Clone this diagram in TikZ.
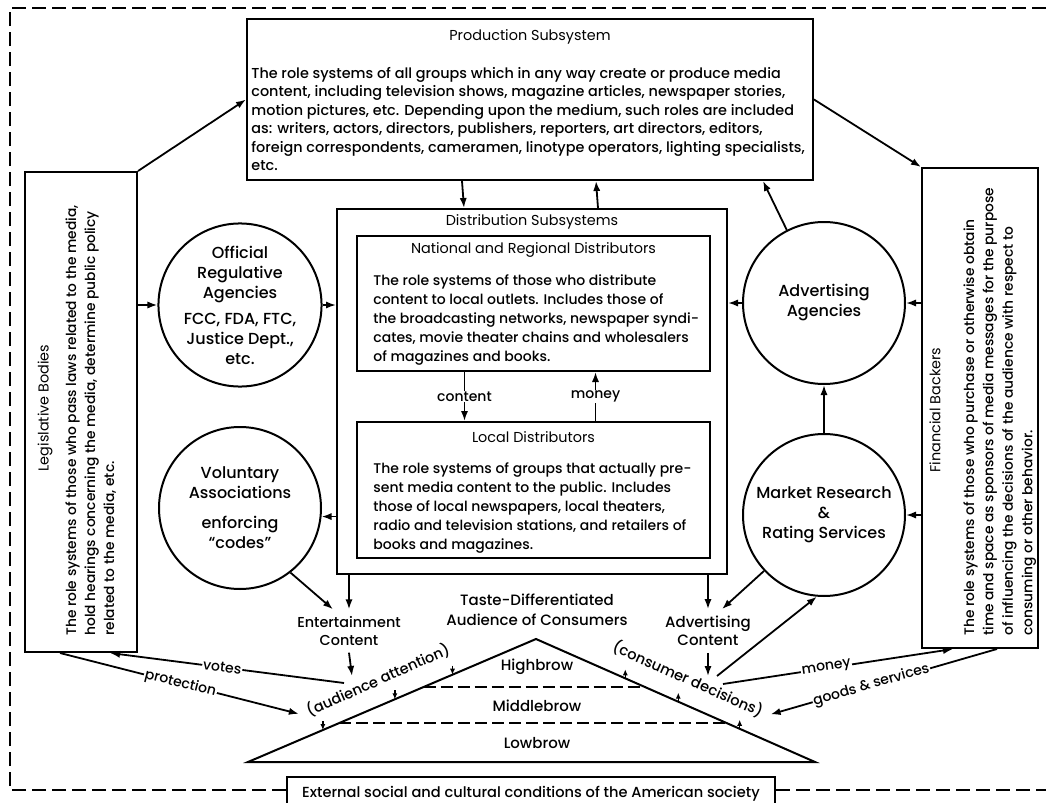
\documentclass[tikz,border=0pt]{standalone}
\usepackage{fontspec}
\setmainfont{Poppins}[UprightFont={* Medium}]
\newfontfamily\lightfont{Poppins}
\usetikzlibrary{positioning, calc, arrows.meta}
\tikzset{
	every picture/.append style={
		font=\fontsize{7}{9.5}\selectfont,
	},
	sysbox/.style={
		draw,
		line width=1pt,
		inner sep=0pt,
	},
	agency/.style={
		draw,
		circle,
		line width=1pt,
		inner sep=0pt,
		minimum size=81pt,
		align=center,
		font=\fontsize{8}{10}\selectfont
	},
	ttl/.style={
		inner sep=0pt,
		font=\lightfont\fontsize{7.2}{9}\selectfont
	},
	body/.style={
		align=left,
		inner sep=0pt,
		anchor=north west,
	},
	labe/.style={
		fill=white,
		inner sep=0.5pt,
	},
	flow/.style={
		->,
		line width=0.9pt,
	},
	tick/.style={
		-{Latex[length=3pt,width=2.6pt]},
		line width=0.7pt,
	},
	frame/.style={
		line width=1.2pt,
		dash pattern=on 7pt off 3pt,
	},
	layer/.style={
		line width=0.9pt,
		dash pattern=on 6pt off 2.5pt,
	},
}

\begin{document}
\begin{tikzpicture}[x=0.5pt, y=-0.5pt, >={Latex[length=5pt,width=3.6pt]}]
\useasboundingbox (0,0) rectangle (1046,803);

% production
\node(prod)[sysbox, minimum width=283pt, minimum height=80.5pt] at (530,99.5) {};
\node(prodttl)[ttl] at (530,37) {Production Subsystem};
\node(prodtxt)[body, font=\fontsize{7.2}{9.2}\selectfont] at (251,67) {The role systems of all groups which in any way create or produce media\\
content, including television shows, magazine articles, newspaper stories,\\
motion pictures, etc. Depending upon the medium, such roles are included\\
as: writers, actors, directors, publishers, reporters, art directors, editors,\\
foreign correspondents, cameramen, linotype operators, lighting specialists,\\
etc.};

% distribution
\node(dist)[sysbox, minimum width=195pt, minimum height=182.5pt] at (532,391.5) {};
\node(distttl)[ttl] at (532,222) {Distribution Subsystems};

\node(natl)[sysbox, minimum width=176.5pt, minimum height=67.5pt] at (533.5,303.5) {};
\node(natlttl)[ttl] at (533.5,250) {National and Regional Distributors};
\node(natltxt)[body] at (373,274) {The role systems of those who distribute\\
content to local outlets. Includes those of\\
the broadcasting networks, newspaper syndi-\\
cates, movie theater chains and wholesalers\\
of magazines and books.};

\node(local)[sysbox, minimum width=176.5pt, minimum height=68pt] at (533.5,490) {};
\node(localttl)[ttl] at (533.5,437) {Local Distributors};
\node(localtxt)[body] at (373,462) {The role systems of groups that actually pre-\\
sent media content to the public. Includes\\
those of local newspapers, local theaters,\\
radio and television stations, and retailers of\\
books and magazines.};

\draw[flow] ([xshift=-34.5pt]natl.south) -- node[labe]{content} ([xshift=-34.5pt]local.north);
\draw[flow] ([xshift=31pt]local.north) -- node[labe]{money} ([xshift=31pt]natl.south);
\draw[flow] ([xshift=-34pt]prod.south) -- ([xshift=-34pt]dist.north);
\draw[flow] ([xshift=33pt]dist.north) -- ([xshift=33pt]prod.south);

% side boxes
\node(legis)[sysbox, minimum width=56pt, minimum height=240pt] at (81,412) {};
\node(legisttl)[ttl, rotate=90] at (45,408) {Legislative Bodies};
\node(legistxt)[body, rotate=90, font=\fontsize{6.9}{9.5}\selectfont] at (65,636) {The role systems of those who pass laws related to the media,\\
hold hearings concerning the media, determine public policy\\
related to the media, etc.};

\node(fin)[sysbox, minimum width=58pt, minimum height=240pt] at (980,408) {};
\node(finttl)[ttl, rotate=90] at (935,410) {Financial Backers};
\node(fintxt)[body, rotate=90, font=\fontsize{6.9}{9.7}\selectfont] at (963,636) {The role systems of those who purchase or otherwise obtain\\
time and space as sponsors of media messages for the purpose\\
of influencing the decisions of the audience with respect to\\
consuming or other behavior.};

\draw[flow] (legis.north east) -- (prod.west);
\draw[flow] (prod.east) -- (fin.north west);

% agencies
\node(offic)[agency] at (240,305) {Official\\Regulative\\Agencies\\[3pt]FCC, FDA, FTC,\\Justice Dept.,\\etc.};
\node(volun)[agency] at (240,508) {Voluntary\\Associations\\[5pt]enforcing\\``codes''};
\node(adva)[agency] at (824,303) {Advertising\\Agencies};
\node(markt)[agency] at (824,515) {Market Research\\\&\\Rating Services};

\draw[flow] (legis.east |- offic.west) -- (offic.west);
\draw[flow] (offic.east) -- (dist.west |- offic.east);
\draw[flow] (dist.west |- volun.-6) -- (volun.-6);
\draw[flow] (fin.west |- adva.east) -- (adva.east);
\draw[flow] (fin.west |- markt.east) -- (markt.east);
\draw[flow] (adva.west) -- (dist.east |- adva.west);
\draw[flow] (markt.north) -- (adva.south);
\draw[flow] (adva.117) -- ([xshift=-25.5pt]prod.south east);

% contents
\node(entc)[align=center, font=\fontsize{7.2}{9}\selectfont] at (349,631) {Entertainment\\Content};
\node(advc)[align=center, font=\fontsize{7.5}{9}\selectfont] at (708,631) {Advertising\\Content};

\draw[flow] (dist.south -| entc.north) -- (entc.north);
\draw[flow] (volun.-52) -- ([xshift=-8pt]entc.north);
\draw[flow] (dist.south -| advc.north) -- (advc.north);
\draw[flow] (markt.223) -- ([xshift=7pt]advc.north);

% audience
\node(aud)[align=center, font=\fontsize{7.5}{10}\selectfont] at (537,610) {Taste-Differentiated\\Audience of Consumers};
\coordinate(tl) at (248,762);
\coordinate(tt) at (536,639);
\coordinate(tr) at (815,762);
\draw[line width=1pt] (tl) -- (tt) -- (tr) -- cycle;
\draw[layer] ($(tl)!0.61!(tt)$) -- ($(tr)!0.61!(tt)$);
\draw[layer] ($(tl)!0.317!(tt)$) -- ($(tr)!0.317!(tt)$);
\node(high)[font=\fontsize{7.5}{9}\selectfont] at (537,667) {Highbrow};
\node(mid)[font=\fontsize{7.5}{9}\selectfont] at (537,706) {Middlebrow};
\node(low)[font=\fontsize{7.5}{9}\selectfont] at (537,743) {Lowbrow};

\node(attn)[rotate=24, font=\fontsize{7.3}{9}\selectfont] at (378,680) {(audience attention)};
\node(cdec)[rotate=-24, font=\fontsize{7.3}{9}\selectfont] at (688,679) {(consumer decisions)};
\foreach \t in {0.26,0.51,0.71}
	\draw[tick] ($(tl)!\t!(tt)+(0,-9)$) -- ($(tl)!\t!(tt)$);
\foreach \t in {0.32,0.51,0.73}
	\draw[tick] ($(tt)!\t!(tr)$) -- ++(0,-9);

\coordinate(attnin) at (352,676);
\coordinate(cdin) at (708,676);
\coordinate(cdout) at (717,676);
\coordinate(cdmoney) at (723,684);
\coordinate(votesrc) at (344,683);

\draw[flow] (entc.south) -- (attnin);
\draw[flow] (advc.south) -- (cdin);
\draw[flow] (cdout) -- (markt.-95);

\draw[flow] (votesrc) -- node[labe, sloped, pos=0.52]{votes} ([xshift=14.5pt]legis.south);
\draw[flow, shorten >=1pt] ([xshift=-10.5pt]legis.south) -- node[labe, sloped, pos=0.5]{protection} (attn.west);
\draw[flow] (cdmoney) -- node[labe, sloped, pos=0.45]{money} ([xshift=-13.5pt]fin.south);
\draw[flow, shorten >=1pt] ([xshift=8.5pt]fin.south) -- node[labe, sloped, pos=0.55]{goods \& services} (cdec.east);

% environment
\node(ext)[sysbox, minimum width=244pt, minimum height=17pt, font=\fontsize{7.3}{9}\selectfont] at (531,794) {External social and cultural conditions of the American society};
\coordinate(fbl) at (10,790);
\draw[frame] (fbl -| ext.west) -- (fbl) -- (10,8) -- (1046,8);
\draw[frame] (fbl -| ext.east) -- (1046,790);
\end{tikzpicture}
\end{document}
